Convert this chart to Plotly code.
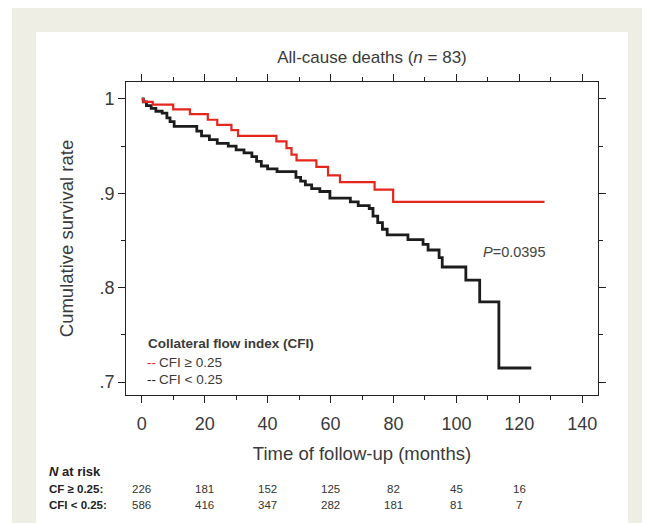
import plotly.graph_objects as go

# ---- data ----
red_t = [0, 0.5, 3.5, 10, 15.3, 21, 24, 28.5, 30.6, 42.8, 46, 47.6, 49.2, 55.5, 59.2, 63, 74, 79.9, 128]
red_s = [1.000, 0.997, 0.994, 0.989, 0.984, 0.978, 0.9725, 0.967, 0.961, 0.955, 0.948, 0.941, 0.935,
         0.928, 0.919, 0.912, 0.904, 0.891, 0.891]

black_t = [0, 0.5, 1.5, 3, 4.5, 6.5, 8, 9, 10.3, 17.5, 19, 21.5, 24, 27.5, 30, 32.5, 35, 36.5, 38,
           40, 43, 49, 50.5, 52, 54, 56.6, 59.8, 66.3, 68.8, 72.3, 73.5, 75, 76.5, 78, 84.6, 89.4,
           91, 94.5, 95.5, 103, 107.4, 113.5, 123.8]
black_s = [1.000, 0.997, 0.993, 0.990, 0.987, 0.985, 0.980, 0.976, 0.971, 0.966, 0.961, 0.957, 0.953,
           0.950, 0.946, 0.943, 0.939, 0.934, 0.929, 0.926, 0.923, 0.917, 0.913, 0.909, 0.905, 0.902,
           0.895, 0.891, 0.887, 0.884, 0.876, 0.869, 0.862, 0.856, 0.851, 0.846, 0.840, 0.832, 0.822,
           0.808, 0.785, 0.715, 0.715]

risk_months = [0, 20, 40, 60, 80, 100, 120]
risk_hi = [226, 181, 152, 125, 82, 45, 16]
risk_lo = [586, 416, 347, 282, 181, 81, 7]

x_ticks = [0, 20, 40, 60, 80, 100, 120, 140]
y_ticks = [0.7, 0.8, 0.9, 1.0]
y_ticktext = [".7", ".8", ".9", "1"]
y_minor = [0.75, 0.85, 0.95]

title_text = "All-cause deaths (<i>n</i> = 83)"
legend_title = "Collateral flow index (CFI)"
labels_hi = "CFI ≥ 0.25"
labels_lo = "CFI &lt; 0.25"

# ---- layout geometry (page pixels; the page body adds an 8px offset) ----
OFF = 8
W, H = 650, 523
L, R, T, B = 126 - OFF, 598 - OFF, 82 - OFF, 395 - OFF
pw, ph = R - L, B - T

def px(x):
    return (x - OFF - L) / pw

def py(y):
    return (B - (y - OFF)) / ph

FONT = "Liberation Sans, Arial, sans-serif"
TXT = "#3a3a3a"
RED = "#e5261c"
BLK = "#1c1c1c"

fig = go.Figure()
fig.add_trace(go.Scatter(x=black_t, y=black_s, mode="lines", line=dict(color=BLK, width=2.8, shape="hv"),
                         showlegend=False, hoverinfo="skip"))
fig.add_trace(go.Scatter(x=red_t, y=red_s, mode="lines", line=dict(color=RED, width=2.2, shape="hv"),
                         showlegend=False, hoverinfo="skip"))

shapes = [
    dict(type="rect", xref="paper", yref="paper", x0=px(12), x1=px(680), y0=py(560), y1=py(7),
         fillcolor="#eeeee4", line=dict(width=0), layer="below"),
    dict(type="rect", xref="paper", yref="paper", x0=px(36), x1=px(628), y0=py(560), y1=py(32),
         fillcolor="white", line=dict(width=0), layer="below"),
]

ann = []
# legend
ann.append(dict(xref="paper", yref="paper", x=px(146), y=py(343), xanchor="left", yanchor="middle",
                text="<b>" + legend_title + "</b>", showarrow=False, font=dict(family=FONT, size=13.5, color=TXT)))
# legend key dashes (coloured) and labels
ann.append(dict(xref="paper", yref="paper", x=px(145), y=py(362), xanchor="left", yanchor="middle",
                text="--", showarrow=False, font=dict(family=FONT, size=13.5, color=RED)))
ann.append(dict(xref="paper", yref="paper", x=px(157), y=py(362), xanchor="left", yanchor="middle",
                text=labels_hi, showarrow=False, font=dict(family=FONT, size=13.5, color=TXT)))
ann.append(dict(xref="paper", yref="paper", x=px(145), y=py(379), xanchor="left", yanchor="middle",
                text="--", showarrow=False, font=dict(family=FONT, size=13.5, color=BLK)))
ann.append(dict(xref="paper", yref="paper", x=px(157), y=py(379), xanchor="left", yanchor="middle",
                text=labels_lo, showarrow=False, font=dict(family=FONT, size=13.5, color=TXT)))
# p value
ann.append(dict(xref="x", yref="y", x=118.5, y=0.838, xanchor="center", yanchor="middle",
                text="<i>P</i>=0.0395", showarrow=False, font=dict(family=FONT, size=14.5, color="#444")))
# risk table
ann.append(dict(xref="paper", yref="paper", x=px(47), y=py(471), xanchor="left", yanchor="middle",
                text="<b><i>N</i> at risk</b>", showarrow=False, font=dict(family=FONT, size=13, color="#222")))
ann.append(dict(xref="paper", yref="paper", x=px(47), y=py(489), xanchor="left", yanchor="middle",
                text="<b>CF ≥ 0.25:</b>", showarrow=False, font=dict(family=FONT, size=11.5, color="#222")))
ann.append(dict(xref="paper", yref="paper", x=px(47), y=py(505), xanchor="left", yanchor="middle",
                text="<b>CFI &lt; 0.25:</b>", showarrow=False, font=dict(family=FONT, size=11.5, color="#222")))
for m, a, b in zip(risk_months, risk_hi, risk_lo):
    ann.append(dict(xref="x", yref="paper", x=m, y=py(489), xanchor="center", yanchor="middle",
                    text=str(a), showarrow=False, font=dict(family=FONT, size=11.5, color="#333")))
    ann.append(dict(xref="x", yref="paper", x=m, y=py(505), xanchor="center", yanchor="middle",
                    text=str(b), showarrow=False, font=dict(family=FONT, size=11.5, color="#333")))

fig.update_layout(
    width=W, height=H,
    margin=dict(l=L, r=W - R, t=T, b=H - B, pad=0),
    paper_bgcolor="white", plot_bgcolor="white",
    shapes=shapes, annotations=ann,
    title=dict(text=title_text, x=(372 - OFF) / W, xanchor="center", xref="container",
               y=1 - (57 - OFF) / H, yanchor="middle", yref="container",
               font=dict(family=FONT, size=17, color=TXT)),
    font=dict(family=FONT, color=TXT),
)
fig.update_xaxes(range=[-5, 145], tickvals=x_ticks, ticks="outside", ticklen=7, tickwidth=1,
                 tickcolor="#222", showline=True, linecolor="#222", linewidth=1, mirror="ticks",
                 showgrid=False, zeroline=False, tickfont=dict(family=FONT, size=18, color=TXT),
                 ticklabelstandoff=5,
                 minor=dict(dtick=10, tick0=0, ticks="outside", ticklen=4, tickcolor="#222", showgrid=False),
                 title=dict(text="Time of follow-up (months)", font=dict(family=FONT, size=18.5, color=TXT),
                            standoff=14))
fig.update_yaxes(range=[0.6864, 1.018], tickvals=y_ticks, ticktext=y_ticktext, ticks="outside", ticklen=7,
                 tickwidth=1, tickcolor="#222", showline=True, linecolor="#222", linewidth=1, mirror="ticks",
                 showgrid=False, zeroline=False, tickfont=dict(family=FONT, size=18, color=TXT),
                 minor=dict(tickmode="array", tickvals=y_minor, ticks="outside", ticklen=4, tickcolor="#222",
                            showgrid=False),
                 title=dict(text="Cumulative survival rate", font=dict(family=FONT, size=18.5, color=TXT),
                            standoff=20))

fig.write_html("out.html")
